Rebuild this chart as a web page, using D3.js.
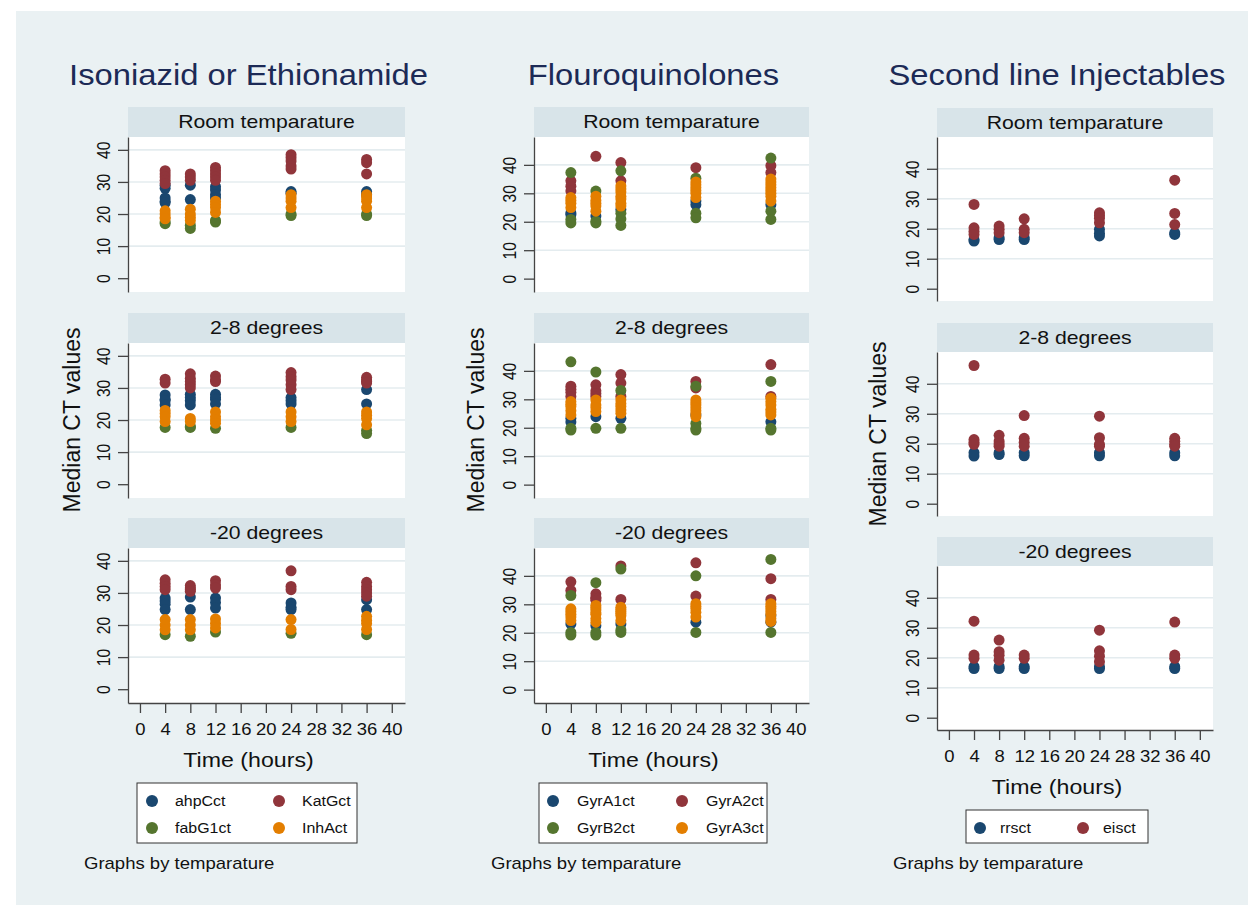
<!DOCTYPE html>
<html>
<head>
<meta charset="utf-8">
<script src="https://cdn.jsdelivr.net/npm/d3@7"></script>
<style>
  body { margin: 0; background: #fff; }
  svg { display: block; font-family: "Liberation Sans", Arial, sans-serif; }
</style>
</head>
<body>
<div id="chart"></div>
<script>
// time points (hours) and facet labels
const times = [4, 8, 12, 24, 36];
const temps = ["Room temparature", "2-8 degrees", "-20 degrees"];
const xTicks = d3.range(0, 41, 4);
const yTicks = [0, 10, 20, 30, 40];

// median CT values: [room, 2-8, -20], each a list per time point
const ahpCct = [
  [[29, 28, 25, 24, 23.5], [29, 24.5], [28.5, 27.5, 26, 25], [27, 26.5], [27, 26]],
  [[27.8, 26.5, 26, 24.7], [28, 27, 26, 24.7], [28, 27, 26.5, 25], [27, 26, 25], [29.5, 25]],
  [[28.4, 27.5, 26.5, 24.8], [28.7, 24.8], [28.4, 27, 25.3], [26.9, 25.5, 24.8], [27.9, 24.8]]
];
const KatGct = [
  [[33.5, 32.5, 31.5, 30.5, 29.5], [32.5, 31.5, 30.5], [34.5, 33.5, 32.5, 31.5, 30.5], [38.5, 37.5, 36.5, 35, 34], [37, 36, 32.5]],
  [[32.7, 31.5], [34.4, 33, 32, 31, 30], [33.7, 32.5, 32], [34.8, 33.5, 32.5, 31, 29.5], [33.3, 32.5, 32, 31.5]],
  [[34.1, 33, 32, 31], [32.3, 31.5, 31, 30.5], [33.8, 32.5, 31.5], [36.9, 32, 31], [33.3, 32, 31, 30, 29]]
];
const fabG1ct = [
  [[17, 17.5], [16.5, 15.5], [17.5, 18], [20, 19.5], [20, 19.5]],
  [[17.7], [17.7, 18], [17.4], [17.7], [16.8, 15.8]],
  [[17], [16.5], [17.8], [17.4], [17]]
];
const InhAct = [
  [[21, 20, 19, 18.5], [21.5, 20, 19, 18], [24, 23, 22, 20.5], [26, 25, 24, 22], [26, 25, 24, 22]],
  [[23, 22, 21, 19.5], [20.5, 19.5], [22.5, 21, 20, 19], [22.5, 21, 19.5], [22.5, 21.5, 20.5, 18.5]],
  [[21.7, 20, 18.5], [21.7, 20, 18.5], [21.9, 20.5, 19.1], [21.7, 18.6], [22.7, 21.5, 20.5, 18.6]]
];

const GyrA1ct = [
  [[23.1, 22.5], [22], [24.3], [27.3, 26], [26]],
  [[23.3, 22], [23.9], [23.3], [24.5], [22.1]],
  [[23.1], [22.5], [23.1], [23.7], [23.7, 26]]
];
const GyrA2ct = [
  [[34.4, 32.5, 30.8], [43], [40.8, 34.4], [39], [39.7, 37.3]],
  [[34.6, 33.5, 32.5, 31], [35.1, 33, 32, 31], [38.7, 35.7, 31], [36.3, 34], [42.2, 31]],
  [[37.9, 34.9], [33.7, 32.5, 32, 31.4], [43.5, 31.7], [44.6, 32.9], [39, 31.7]]
];
const GyrB2ct = [
  [[37.3, 20.8, 19.6], [30.8, 20.2, 19.6], [37.9, 23, 21, 18.7], [35.3, 23, 21.4], [42.4, 23.7, 20.8]],
  [[43.2, 19.8, 19.2], [39.6, 19.8], [33.1, 19.8], [34.6, 21.5, 19.8, 19.2], [36.3, 19.8, 19.2]],
  [[33.1, 20.1, 19.2], [37.6, 20.1, 19.2], [42.4, 20.1, 21], [40, 20.1], [45.8, 20.1]]
];
const GyrA3ct = [
  [[28.5, 27.5, 26.5, 25], [29, 27.5, 26.5, 25.5, 23.7], [32.6, 31.5, 30.5, 29, 28, 26.5, 25.5], [34, 33, 32, 31, 30, 28.5], [35, 34, 33, 32, 31, 30, 29, 27.3]],
  [[29.2, 28.3, 27.5, 26, 24.5], [29.8, 28, 27, 25.7], [29.8, 28.5, 27.5, 26.2, 25.1], [29.8, 28.8, 28, 27, 26, 25, 23.9], [30.4, 29.2, 28, 26.5, 25.5, 24.5]],
  [[28.4, 27.5, 26.5, 25.5, 24.3], [29.6, 28.8, 28, 27, 26.5, 25, 23.7], [29, 28.2, 27.5, 26.8, 26, 24.3], [30.2, 29.3, 28.5, 27.2, 25.5], [30.2, 29.3, 28.5, 27.5, 26.5, 25, 24]]
];

const rrsct = [
  [[16.4, 15.9], [16.4, 17], [17, 16.4], [19.8, 18.5, 17.6], [18.1, 18.6]],
  [[15.9, 17], [17, 16.4], [17, 16], [17, 16], [17, 16]],
  [[17, 16.4], [17, 16.4], [17, 16.4], [17, 16.4], [17, 16.4]]
];
const eisct = [
  [[28.1, 20.3, 19.2, 18.1], [20.9, 19.8, 18.7], [23.3, 19.8, 18.7], [25.3, 24.4, 23.5, 22], [36.2, 25.1, 21.4]],
  [[46.1, 21.4, 20.5, 19.8], [22.8, 20.9, 20, 19.2], [29.4, 21.8, 20.5, 19.2], [29.2, 22, 19.8, 19.2], [21.8, 20.8, 19.8, 19.2]],
  [[32.2, 20.9, 19.8], [25.9, 22, 20.8, 19.2], [20.9, 19.8], [29.2, 22.3, 20.5, 18.7], [31.9, 20.9, 19.8]]
];

// Stata s2color palette
const navy = "#1a476f", maroon = "#90353b", green = "#55752f", orange = "#e37e00";

const panels = [
  {
    title: "Isoniazid or Ethionamide", series: [ahpCct, KatGct, fabG1ct, InhAct],
    names: ["ahpCct", "KatGct", "fabG1ct", "InhAct"], colors: [navy, maroon, green, orange],
    left: 128, right: 405, stripTops: [107, 313, 518], stripH: 30, plotH: 155, yDomain: [-4.3, 44],
    ylab: [80, 420], note: 84,
    legend: { x: 137, y: 783, w: 220, h: 60, cols: [152, 279], rows: [801, 828], gap: 23 }
  },
  {
    title: "Flouroquinolones", series: [GyrA1ct, GyrA2ct, GyrB2ct, GyrA3ct],
    names: ["GyrA1ct", "GyrA2ct", "GyrB2ct", "GyrA3ct"], colors: [navy, maroon, green, orange],
    left: 534, right: 809, stripTops: [107, 313, 518], stripH: 30, plotH: 155, yDomain: [-4.7, 49.8],
    ylab: [484, 420], note: 491,
    legend: { x: 539, y: 783, w: 228, h: 60, cols: [553, 682], rows: [801, 828], gap: 24 }
  },
  {
    title: "Second line Injectables", series: [rrsct, eisct],
    names: ["rrsct", "eisct"], colors: [navy, maroon],
    left: 937, right: 1213, stripTops: [108, 323, 537], stripH: 29, plotH: 164, yDomain: [-4.1, 50.6],
    ylab: [886, 434], note: 893,
    legend: { x: 966, y: 810, w: 182, h: 33, cols: [980, 1083], rows: [828], gap: 20 }
  }
];

const W = 1248, H = 917;
const svg = d3.select("#chart").append("svg").attr("width", W).attr("height", H);
svg.append("rect").attr("width", W).attr("height", H).attr("fill", "#fff");
svg.append("rect").attr("x", 16).attr("y", 11).attr("width", W - 16).attr("height", 894).attr("fill", "#eaf1f3");

// text helper; the source glyphs are a bit wider than Arial so scale x a little
function txt(g, s, x, y, o) {
  o = o || {};
  const t = g.append("text")
    .attr("transform", `translate(${x},${y})` + (o.rot ? ` rotate(${o.rot})` : "") + ` scale(${o.sx || 1},${o.sy || 1})`)
    .attr("text-anchor", o.anchor || "start")
    .attr("font-size", o.size || 16)
    .attr("fill", o.fill || "#111")
    .text(s);
  return t;
}

panels.forEach(function (p) {
  const g = svg.append("g");
  const cx = (p.left + p.right) / 2;
  // title and x title are centred on the whole facet block incl. y title
  const bx = cx - 18;

  txt(g, p.title, bx, 85, { size: 29, sx: 1.13, anchor: "middle", fill: "#1c2a56" });

  const x = d3.scaleLinear().domain([-1.9, 42.1]).range([p.left, p.right]);

  p.stripTops.forEach(function (st, k) {
    const top = st + p.stripH, bottom = top + p.plotH;
    const y = d3.scaleLinear().domain(p.yDomain).range([bottom, top]);

    g.append("rect").attr("x", p.left).attr("y", st).attr("width", p.right - p.left).attr("height", p.stripH)
      .attr("fill", "#d8e4e9");
    txt(g, temps[k], cx, st + 21, { size: 18.6, sx: 1.14, anchor: "middle" });

    g.append("rect").attr("x", p.left).attr("y", top).attr("width", p.right - p.left).attr("height", p.plotH)
      .attr("fill", "#fff");

    // grid
    g.append("g").selectAll("line").data(yTicks.filter(d => d > 0)).enter().append("line")
      .attr("x1", p.left).attr("x2", p.right)
      .attr("y1", d => y(d)).attr("y2", d => y(d))
      .attr("stroke", "#e4ecef").attr("stroke-width", 1.6);

    // points, series order as in Stata
    p.series.forEach(function (ser, si) {
      const pts = [];
      ser[k].forEach(function (vals, ti) { vals.forEach(v => pts.push([times[ti], v])); });
      g.append("g").selectAll("circle").data(pts).enter().append("circle")
        .attr("cx", d => x(d[0])).attr("cy", d => y(d[1])).attr("r", 5.5)
        .attr("fill", p.colors[si]);
    });

    const yAxis = d3.axisLeft(y).tickValues(yTicks).tickSize(10).tickSizeOuter(0);
    const ya = g.append("g").attr("transform", `translate(${p.left},0)`).call(yAxis);
    ya.selectAll("path, line").attr("stroke", "#444").attr("stroke-width", 1.3);
    ya.selectAll("text").remove();
    ya.selectAll(".tick").each(function (d) {
      txt(d3.select(this), String(d), -18, 0, { rot: -90, size: 17, sx: 0.92, sy: 1.12, anchor: "middle" });
    });

    if (k === 2) {
      const xAxis = d3.axisBottom(x).tickValues(xTicks).tickSize(10).tickSizeOuter(0);
      const xa = g.append("g").attr("transform", `translate(0,${bottom})`).call(xAxis);
      xa.selectAll("path, line").attr("stroke", "#444").attr("stroke-width", 1.3);
      xa.selectAll("text").remove();
      xa.selectAll(".tick").each(function (d) {
        txt(d3.select(this), String(d), 0, 32, { size: 16.5, sx: 1.12, anchor: "middle" });
      });
      txt(g, "Time (hours)", bx, bottom + 64, { size: 20.5, sx: 1.13, anchor: "middle" });
    }
  });

  txt(g, "Median CT values", p.ylab[0], p.ylab[1], { rot: -90, size: 23, anchor: "middle" });

  // legend
  const L = p.legend;
  g.append("rect").attr("x", L.x).attr("y", L.y).attr("width", L.w).attr("height", L.h)
    .attr("fill", "#fff").attr("stroke", "#333").attr("stroke-width", 1);
  p.names.forEach(function (nm, i) {
    const lx = L.cols[i % 2], ly = L.rows[Math.floor(i / 2)];
    g.append("circle").attr("cx", lx).attr("cy", ly).attr("r", 6).attr("fill", p.colors[i]);
    txt(g, nm, lx + L.gap, ly + 5, { size: 14.5, sx: 1.1 });
  });

  txt(g, "Graphs by temparature", p.note, 869, { size: 16.4, sx: 1.13 });
});
</script>
</body>
</html>
